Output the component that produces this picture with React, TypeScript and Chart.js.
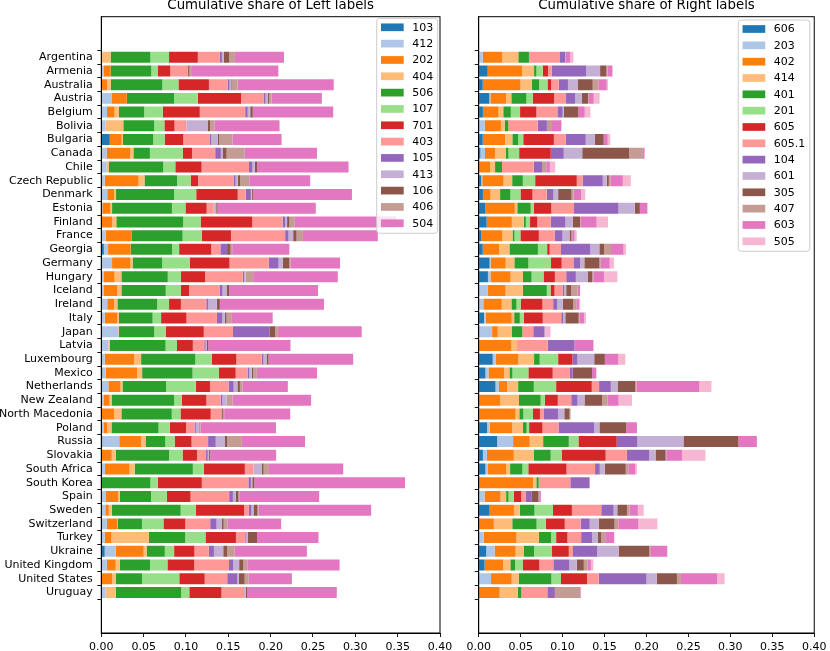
import { useEffect, useRef } from 'react';
import { Chart, registerables } from 'chart.js';

Chart.register(...registerables);

const countries = [
  'Argentina', 'Armenia', 'Australia', 'Austria', 'Belgium', 'Bolivia', 'Bulgaria', 'Canada',
  'Chile', 'Czech Republic', 'Denmark', 'Estonia', 'Finland', 'France', 'Georgia', 'Germany',
  'Hungary', 'Iceland', 'Ireland', 'Italy', 'Japan', 'Latvia', 'Luxembourg', 'Mexico',
  'Netherlands', 'New Zealand', 'North Macedonia', 'Poland', 'Russia', 'Slovakia',
  'South Africa', 'South Korea', 'Spain', 'Sweden', 'Switzerland', 'Turkey', 'Ukraine',
  'United Kingdom', 'United States', 'Uruguay',
];

const xTicks = [0, 0.05, 0.1, 0.15, 0.2, 0.25, 0.3, 0.35, 0.4];

// tab20
const palette = [
  '#1f77b4', '#aec7e8', '#ff7f0e', '#ffbb78', '#2ca02c', '#98df8a', '#d62728',
  '#ff9896', '#9467bd', '#c5b0d5', '#8c564b', '#c49c94', '#e377c2', '#f7b6d2',
];

// ---- left labels (one array per label, one value per country)
const leftLabels = ['103', '412', '202', '404', '506', '107', '701', '403', '105', '413', '106', '406', '504'];

const L103 = [0, 0, 0, 0, 0, 0, 0.01, 0, 0, 0, 0, 0, 0, 0, 0.003, 0, 0, 0, 0, 0, 0, 0, 0, 0.0012, 0, 0, 0, 0, 0.0012, 0, 0, 0, 0, 0, 0, 0, 0.004, 0, 0, 0];
const L412 = [0, 0.003, 0, 0.012, 0.0067, 0.005, 0, 0.0063, 0.0063, 0.004, 0.007, 0.0012, 0, 0.005, 0.005, 0.0127, 0.003, 0.003, 0.007, 0.004, 0.02, 0.0083, 0.004, 0.004, 0.0083, 0.003, 0, 0.003, 0.02, 0, 0.0044, 0, 0.005, 0.0048, 0.0063, 0.004, 0.013, 0.0063, 0, 0.005];
const L202 = [0, 0.008, 0.0067, 0.018, 0.009, 0, 0.014, 0.028, 0, 0.04, 0.008, 0.0095, 0.0127, 0.031, 0.0266, 0.0218, 0.0127, 0.0159, 0.008, 0.015, 0, 0, 0.035, 0.037, 0.0143, 0.0067, 0.015, 0.004, 0.026, 0.0123, 0.029, 0, 0.0147, 0.004, 0.0127, 0.008, 0.033, 0.0107, 0.0127, 0];
const L404 = [0.011, 0, 0.0044, 0, 0.005, 0.021, 0.0016, 0.0036, 0.0028, 0.007, 0.0024, 0.002, 0.005, 0, 0, 0.0024, 0.008, 0.0048, 0.004, 0.0016, 0.0008, 0.0016, 0.008, 0.006, 0.0024, 0.0024, 0.0087, 0.005, 0.005, 0.005, 0.006, 0, 0.002, 0.0036, 0.0004, 0.044, 0.0036, 0.0048, 0.0044, 0.012];
const L506 = [0.047, 0.048, 0.061, 0.056, 0.03, 0.0365, 0.0357, 0.0195, 0.064, 0.0385, 0.0687, 0.0707, 0.079, 0.06, 0.049, 0.035, 0.0548, 0.0524, 0.047, 0.04, 0.0417, 0.066, 0.064, 0.0595, 0.0516, 0.074, 0.0595, 0.0556, 0.0234, 0.0627, 0.0687, 0.058, 0.037, 0.0813, 0.0286, 0.043, 0.0214, 0.0357, 0.031, 0.0774];
const L107 = [0.022, 0.0075, 0.019, 0.028, 0.022, 0.012, 0.0135, 0.039, 0.0143, 0.016, 0.026, 0.016, 0.0206, 0.0226, 0.0083, 0.0325, 0.0155, 0.018, 0.014, 0.01, 0.0135, 0.0135, 0.0195, 0.031, 0.035, 0.009, 0.0103, 0.0135, 0.011, 0.016, 0.013, 0.0087, 0.0187, 0.018, 0.0254, 0.024, 0.011, 0.0206, 0.044, 0.0095];
const L701 = [0.034, 0.015, 0.036, 0.051, 0.0436, 0.012, 0.022, 0.0107, 0.031, 0.0087, 0.049, 0.025, 0.061, 0.0345, 0.038, 0.047, 0.0286, 0.0095, 0.014, 0.03, 0.045, 0.0187, 0.029, 0.02, 0.0167, 0.029, 0.0357, 0.019, 0.02, 0.017, 0.0484, 0.052, 0.028, 0.057, 0.0258, 0.036, 0.024, 0.0317, 0.03, 0.038];
const L403 = [0.026, 0.021, 0.022, 0.0266, 0.0536, 0.014, 0.031, 0.0274, 0.056, 0.042, 0.0095, 0.0083, 0.0357, 0.064, 0.0107, 0.0464, 0.0444, 0.0365, 0.03, 0.036, 0.0345, 0.0135, 0.03, 0.014, 0.022, 0.017, 0.0127, 0.01, 0.0195, 0.0107, 0.0103, 0.055, 0.0456, 0.0056, 0.0294, 0.011, 0.017, 0.041, 0.0266, 0.0266];
const L105 = [0.0024, 0, 0.0024, 0.0024, 0.003, 0, 0.002, 0.0067, 0.004, 0.0024, 0.006, 0, 0.003, 0.004, 0.008, 0.0115, 0.0016, 0.003, 0.0024, 0.0063, 0.043, 0.0016, 0.002, 0.002, 0.006, 0.002, 0, 0.0016, 0.009, 0.002, 0, 0.003, 0.0044, 0.003, 0.0075, 0.0012, 0.006, 0.005, 0.012, 0];
const L413 = [0.0024, 0, 0.002, 0.0024, 0.003, 0.025, 0.008, 0.002, 0.0028, 0.0024, 0.0012, 0.003, 0.0024, 0.0055, 0, 0.0048, 0.002, 0.0048, 0.01, 0.003, 0, 0.0016, 0.0036, 0.003, 0.0044, 0.005, 0, 0.0036, 0.011, 0.0016, 0.0095, 0.0016, 0.0036, 0.0024, 0.006, 0.002, 0.011, 0.007, 0.0016, 0.002];
const L106 = [0.006, 0.0016, 0.0012, 0.0016, 0.003, 0.003, 0.0016, 0.0048, 0.0028, 0.003, 0.0012, 0.0016, 0.0028, 0.004, 0.004, 0.008, 0, 0.003, 0.0036, 0.002, 0.007, 0.0016, 0.0024, 0.0016, 0.003, 0, 0.0016, 0, 0.0024, 0.0012, 0.0024, 0.0024, 0.003, 0.0048, 0.0024, 0.0107, 0.0048, 0.0048, 0.007, 0.002];
const L406 = [0.007, 0.002, 0.0063, 0.003, 0, 0.005, 0.0155, 0.0214, 0, 0.0107, 0, 0, 0.0063, 0.0075, 0.002, 0.0012, 0.0087, 0, 0, 0.0055, 0.003, 0, 0, 0.0044, 0.003, 0.0067, 0.0016, 0.002, 0.0175, 0, 0.0063, 0, 0.0016, 0.0012, 0.0044, 0, 0.0083, 0.0048, 0.0048, 0];
const L504 = [0.058, 0.103, 0.1135, 0.0595, 0.095, 0.077, 0.058, 0.0853, 0.108, 0.072, 0.117, 0.116, 0.12, 0.0885, 0.0675, 0.0587, 0.1, 0.105, 0.123, 0.049, 0.099, 0.097, 0.1, 0.071, 0.0536, 0.093, 0.078, 0.089, 0.0746, 0.078, 0.0877, 0.178, 0.0937, 0.133, 0.0635, 0.0726, 0.0857, 0.109, 0.051, 0.1056];

const leftSeries = [L103, L412, L202, L404, L506, L107, L701, L403, L105, L413, L106, L406, L504];
const leftColors = palette.slice(0, 12).concat(['#e377c2']);

// ---- right labels
const rightLabels = ['606', '203', '402', '414', '401', '201', '605', '605.1', '104', '601', '305', '407', '603', '505'];

const R606 = [0, 0.0107, 0.0048, 0.0127, 0.005, 0, 0.0048, 0.002, 0, 0.003, 0.005, 0.008, 0.0095, 0.003, 0.0048, 0.013, 0.011, 0, 0, 0.0063, 0, 0, 0.0167, 0.008, 0.02, 0, 0, 0.01, 0.022, 0.005, 0.008, 0, 0, 0.013, 0, 0, 0.009, 0.007, 0, 0];
const R203 = [0.0048, 0, 0, 0.0012, 0, 0.007, 0, 0.0055, 0, 0.0012, 0, 0, 0, 0, 0, 0.0012, 0.003, 0.011, 0.0055, 0.002, 0.016, 0, 0.0036, 0.0036, 0.004, 0, 0, 0.003, 0.019, 0.0048, 0.003, 0, 0.007, 0, 0, 0.006, 0.01, 0, 0.0147, 0];
const R402 = [0.023, 0.041, 0.045, 0.0187, 0.0187, 0.0195, 0.0266, 0.012, 0.0135, 0.0254, 0.009, 0.035, 0.03, 0.025, 0.0195, 0.018, 0.024, 0.021, 0.022, 0.031, 0.0067, 0.039, 0.027, 0.0187, 0.01, 0.0254, 0.044, 0.027, 0.0198, 0.032, 0.022, 0.0647, 0.019, 0.029, 0.018, 0.039, 0.025, 0.022, 0.0246, 0.025];
const R414 = [0.0194, 0.0143, 0.0135, 0.0063, 0.0056, 0.0044, 0.0087, 0.013, 0.006, 0.0103, 0.0115, 0.003, 0.0143, 0.0123, 0.0123, 0.0103, 0.0147, 0.0206, 0.0115, 0.003, 0.017, 0.0067, 0.0187, 0.0063, 0.013, 0.0226, 0.0044, 0.0127, 0.016, 0.024, 0.0044, 0.004, 0.0067, 0.007, 0.022, 0.0266, 0.01, 0.0087, 0.0083, 0.0214];
const R401 = [0.0127, 0.0028, 0.0087, 0.018, 0.009, 0.0044, 0.007, 0.003, 0.0083, 0.0127, 0.0123, 0.016, 0.0024, 0.0024, 0.034, 0.0167, 0.0103, 0.0286, 0.006, 0.0067, 0.0123, 0, 0.0067, 0.0036, 0.0187, 0.0258, 0.0048, 0.0044, 0.0306, 0.02, 0.0147, 0.0028, 0.0028, 0.0175, 0.029, 0.0147, 0.012, 0.0056, 0.039, 0.0044];
const R201 = [0, 0.0075, 0.01, 0.0075, 0.011, 0, 0.006, 0.0127, 0, 0.0147, 0.012, 0.0036, 0.005, 0.007, 0.011, 0.027, 0.0143, 0.0044, 0.005, 0.0048, 0, 0, 0.022, 0.019, 0.0266, 0.005, 0.0115, 0.003, 0.0115, 0.0135, 0.007, 0, 0.0063, 0.022, 0.011, 0.006, 0.0214, 0.0095, 0.0115, 0];
const R605 = [0, 0.0063, 0.0044, 0.0254, 0.0195, 0, 0.0365, 0.0377, 0, 0.0496, 0.0143, 0.021, 0.0087, 0.022, 0.003, 0.0127, 0.0135, 0.0048, 0.026, 0.0226, 0, 0, 0.017, 0.029, 0.0425, 0.0155, 0.0083, 0.016, 0.0456, 0.052, 0.0456, 0, 0.009, 0.0226, 0.0226, 0.0135, 0.02, 0.0195, 0.031, 0];
const R6051 = [0.037, 0.0044, 0.009, 0.0143, 0.025, 0.035, 0.014, 0, 0.0377, 0.007, 0.017, 0.027, 0.016, 0.0187, 0.0135, 0.014, 0.0135, 0.0095, 0.0127, 0.022, 0.013, 0.0365, 0, 0.0206, 0.0087, 0.016, 0.0048, 0.019, 0, 0.0254, 0.034, 0.0377, 0.005, 0.035, 0.019, 0.0163, 0.005, 0.0167, 0.0139, 0.031];
const R104 = [0.006, 0.041, 0.011, 0.0107, 0.0063, 0.011, 0.024, 0.0155, 0.01, 0.024, 0.008, 0.053, 0.0175, 0.0095, 0.035, 0.008, 0.0115, 0.002, 0.005, 0.0024, 0.0135, 0.032, 0.006, 0.003, 0.014, 0.0075, 0.0167, 0.0425, 0.0246, 0.0266, 0.0056, 0.023, 0.0075, 0.0147, 0.0107, 0.013, 0.029, 0.019, 0.057, 0.009];
const R601 = [0.0012, 0.0167, 0.0115, 0.008, 0.0016, 0, 0.0107, 0.022, 0, 0.0048, 0.0056, 0.0195, 0.0087, 0.0083, 0.0107, 0.005, 0.014, 0.0024, 0.0067, 0.0024, 0, 0, 0.02, 0, 0.008, 0.0083, 0.0075, 0.0063, 0.055, 0.0075, 0.006, 0, 0, 0.0044, 0.0107, 0.0067, 0.0254, 0.009, 0.0123, 0];
const R305 = [0, 0.0075, 0.018, 0.0075, 0.0167, 0, 0.0107, 0.056, 0, 0.0024, 0.016, 0.006, 0.0087, 0.0024, 0.0056, 0.018, 0.0056, 0.006, 0.012, 0.016, 0, 0, 0.0127, 0.0234, 0.021, 0.021, 0.0063, 0.032, 0.0655, 0.012, 0.025, 0, 0.008, 0.0115, 0.019, 0.004, 0.0365, 0.0083, 0.024, 0];
const R407 = [0, 0.0012, 0.0067, 0.0008, 0, 0.005, 0, 0.0163, 0.005, 0.002, 0.0024, 0, 0.0008, 0.0008, 0.0083, 0.0016, 0.0012, 0.0075, 0.004, 0.0008, 0, 0, 0, 0, 0.0016, 0.0067, 0.0012, 0, 0, 0.0008, 0.003, 0, 0.0008, 0.003, 0.0044, 0.005, 0.002, 0.0044, 0.0048, 0.03];
const R603 = [0.0048, 0.006, 0.01, 0.006, 0.008, 0.0123, 0.0048, 0.002, 0.0044, 0.0147, 0.009, 0.009, 0.019, 0.003, 0.015, 0.0107, 0.0127, 0.003, 0.003, 0.0055, 0, 0.0226, 0.016, 0.005, 0.075, 0.013, 0, 0.0127, 0.022, 0.0187, 0.008, 0, 0.002, 0.01, 0.024, 0.0107, 0.0195, 0.004, 0.0433, 0.0008];
const R505 = [0.004, 0, 0.0016, 0.007, 0.0067, 0, 0.003, 0, 0.0063, 0.0095, 0.0048, 0, 0.0135, 0.0024, 0.003, 0.005, 0.016, 0, 0.0016, 0.0024, 0.007, 0, 0.0083, 0, 0.0143, 0.016, 0, 0, 0, 0.028, 0.0024, 0, 0, 0.007, 0.0226, 0, 0, 0.003, 0.0087, 0];

const rightSeries = [R606, R203, R402, R414, R401, R201, R605, R6051, R104, R601, R305, R407, R603, R505];
const rightColors = palette;

const FONT = 'DejaVu Sans';

// black box around the plot area (matplotlib spines)
const framePlugin = {
  id: 'frame',
  afterDatasetsDraw(chart: Chart) {
    const { ctx, chartArea: a } = chart;
    ctx.save();
    ctx.strokeStyle = '#000';
    ctx.lineWidth = 1;
    ctx.strokeRect(a.left, a.top, a.right - a.left, a.bottom - a.top);
    ctx.restore();
  },
};

// legend box inside the upper right corner
const legendPlugin = {
  id: 'boxLegend',
  afterDraw(chart: Chart, _args: unknown, opts: any) {
    const { ctx, chartArea: a } = chart;
    const ds = chart.data.datasets;
    const rowH = 16.33;
    const w = opts.width;
    const h = 9 + (ds.length - 1) * rowH + 10;
    const left = a.right - opts.right - w;
    const top = a.top + opts.top;
    ctx.save();
    ctx.beginPath();
    ctx.roundRect(left, top, w, h, 3);
    ctx.fillStyle = 'rgba(255,255,255,0.8)';
    ctx.fill();
    ctx.strokeStyle = '#cccccc';
    ctx.lineWidth = 1;
    ctx.stroke();
    ctx.font = `11px "${FONT}"`;
    ctx.textBaseline = 'middle';
    ds.forEach((d, i) => {
      const cy = top + 9 + i * rowH;
      ctx.fillStyle = d.backgroundColor as string;
      ctx.fillRect(left + 4.3, cy - 3.85, 22.7, 7.7);
      ctx.fillStyle = '#000';
      ctx.fillText(String(d.label), left + 35.5, cy + 0.5);
    });
    ctx.restore();
  },
};

interface PanelProps {
  title: string;
  labels: string[];
  series: number[][];
  colors: string[];
  showNames: boolean;
  width: number;
  axisWidth: number;
  padRight: number;
  legendWidth: number;
  legendRight: number;
  legendTop: number;
}

function Panel(p: PanelProps) {
  const canvasRef = useRef<HTMLCanvasElement>(null);
  const chartRef = useRef<Chart | null>(null);

  useEffect(() => {
    if (!canvasRef.current) return;
    if (chartRef.current) chartRef.current.destroy();

    const datasets = p.labels.map((label, k) => ({
      label,
      data: p.series[k].map((v, i) => ({ x: v, y: i })),
      backgroundColor: p.colors[k],
      borderWidth: 0,
      barPercentage: 0.8,
      categoryPercentage: 1,
    }));

    chartRef.current = new Chart(canvasRef.current, {
      type: 'bar',
      data: { datasets },
      plugins: [framePlugin, legendPlugin],
      options: {
        indexAxis: 'y',
        responsive: false,
        animation: false,
        events: [],
        layout: { padding: { left: 0, right: p.padRight, top: 0, bottom: 0 } },
        scales: {
          x: {
            type: 'linear',
            stacked: true,
            min: 0,
            max: 0.4,
            afterBuildTicks: (scale: any) => {
              scale.ticks = xTicks.map((value) => ({ value }));
            },
            afterFit: (scale: any) => {
              scale.height = 18;
            },
            ticks: {
              color: '#000',
              font: { family: FONT, size: 11 },
              padding: 3.5,
              maxRotation: 0,
              callback: (v: any) => Number(v).toFixed(2),
            },
            grid: { drawOnChartArea: false, drawTicks: true, tickLength: 4, color: '#000', lineWidth: 0.9 },
            border: { display: true, color: '#000', width: 1 },
          },
          y: {
            type: 'linear',
            stacked: true,
            reverse: true,
            min: -2.39,
            max: countries.length - 1 + 2.39,
            afterBuildTicks: (scale: any) => {
              scale.ticks = countries.map((_, i) => ({ value: i }));
            },
            afterFit: (scale: any) => {
              scale.width = p.axisWidth;
            },
            ticks: {
              autoSkip: false,
              color: '#000',
              font: { family: FONT, size: 11 },
              padding: 4.6,
              callback: (v: any) => (p.showNames ? countries[Number(v)] ?? '' : ''),
            },
            grid: { drawOnChartArea: false, drawTicks: true, tickLength: 4, color: '#000', lineWidth: 0.9 },
            border: { display: true, color: '#000', width: 1 },
          },
        },
        plugins: {
          legend: { display: false },
          tooltip: { enabled: false },
          title: {
            display: true,
            text: p.title,
            fullSize: false,
            color: '#000',
            font: { family: FONT, size: 13.3, weight: 'normal', lineHeight: 0.8 },
            padding: { top: 0, bottom: 6.06 },
          },
          boxLegend: { width: p.legendWidth, right: p.legendRight, top: p.legendTop },
        } as any,
      },
    });

    return () => {
      if (chartRef.current) {
        chartRef.current.destroy();
        chartRef.current = null;
      }
    };
  }, [p]);

  return <canvas ref={canvasRef} width={p.width} height={651} style={{ display: 'block' }} />;
}

const leftPanel: PanelProps = {
  title: 'Cumulative share of Left labels',
  labels: leftLabels,
  series: leftSeries,
  colors: leftColors,
  showNames: true,
  width: 470,
  axisWidth: 101.3,
  padRight: 30,
  legendWidth: 61,
  legendRight: 2.3,
  legendTop: 1.6,
};

const rightPanel: PanelProps = {
  title: 'Cumulative share of Right labels',
  labels: rightLabels,
  series: rightSeries,
  colors: rightColors,
  showNames: false,
  width: 385,
  axisWidth: 33.7,
  padRight: 12.3,
  legendWidth: 71.6,
  legendRight: 4.4,
  legendTop: 3.3,
};

export default function App() {
  return (
    <div style={{ position: 'fixed', left: 0, top: 0, width: 830, height: 651, background: '#fff', overflow: 'hidden' }}>
      <div style={{ position: 'absolute', left: 0, top: 0 }}>
        <Panel {...leftPanel} />
      </div>
      <div style={{ position: 'absolute', left: 445, top: 0 }}>
        <Panel {...rightPanel} />
      </div>
    </div>
  );
}
